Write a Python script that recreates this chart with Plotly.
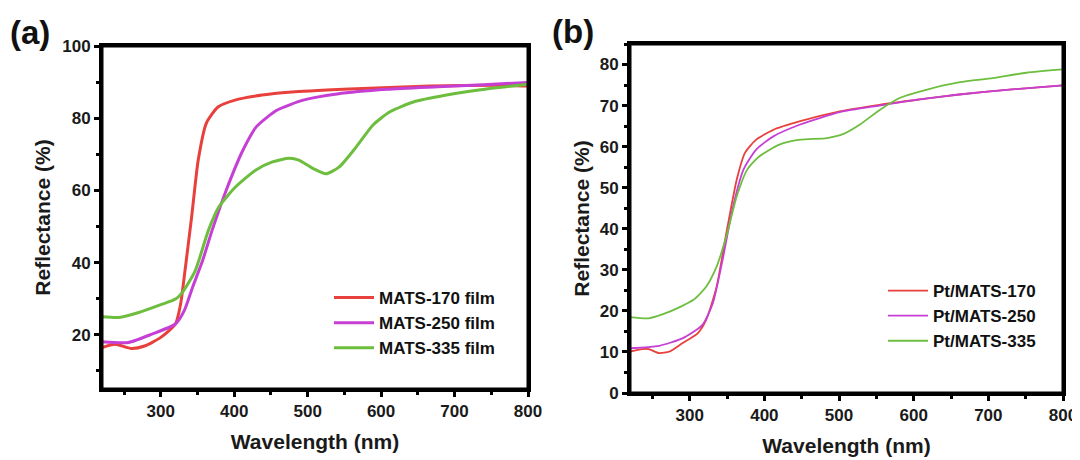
import plotly.graph_objects as go

# ---------------- data ----------------
# Panel (a)
a170_x = [220, 238, 260, 278, 300, 320, 327, 333, 342, 351, 362, 378, 401, 438, 483, 575, 666, 760, 800]
a170_y = [16.5, 17.4, 16.2, 16.9, 19.3, 23.0, 28.5, 37.8, 52.6, 68.4, 78.6, 83.1, 85.0, 86.4, 87.3, 88.2, 88.9, 89.1, 88.9]

a250_x = [220, 256, 288, 320, 332, 343, 357, 370, 389, 412, 430, 458, 494, 540, 608, 677, 740, 800]
a250_y = [18.1, 17.9, 20.2, 23.0, 26.7, 33.0, 40.6, 49.0, 60.0, 71.2, 77.6, 82.2, 85.0, 86.7, 88.0, 88.7, 89.3, 89.9]

a335_x = [220, 243, 270, 302, 320, 331, 347, 365, 379, 402, 429, 452, 475, 488, 507, 525, 543, 566, 589, 612, 644, 689, 733, 800]
a335_y = [25.0, 24.8, 26.2, 28.5, 29.9, 32.2, 37.8, 49.0, 55.4, 61.0, 65.6, 67.9, 68.9, 68.4, 66.1, 64.6, 66.5, 72.0, 78.1, 81.8, 84.5, 86.4, 87.8, 89.4]

# Panel (b)
b170_x = [220, 236, 245, 259, 273, 290, 311, 322, 336, 349, 363, 374, 389, 412, 448, 501, 554, 608, 661, 728, 800]
b170_y = [10.1, 10.7, 10.7, 9.7, 10.1, 12.1, 14.6, 17.8, 25.9, 38.9, 52.0, 58.5, 61.7, 64.1, 66.2, 68.6, 70.2, 71.5, 72.7, 73.9, 74.9]

b250_x = [220, 259, 290, 317, 331, 344, 358, 372, 389, 412, 448, 501, 554, 608, 661, 728, 800]
b250_y = [10.9, 11.5, 13.3, 16.6, 21.9, 32.4, 45.4, 54.4, 59.3, 62.5, 65.4, 68.4, 70.0, 71.5, 72.7, 73.9, 74.9]

b335_x = [220, 245, 273, 305, 322, 336, 349, 363, 377, 393, 420, 448, 484, 506, 528, 555, 582, 618, 662, 706, 751, 800]
b335_y = [18.5, 18.2, 19.8, 22.7, 25.9, 30.8, 38.1, 47.9, 54.4, 57.6, 60.5, 61.7, 62.1, 63.1, 65.4, 69.0, 71.9, 73.9, 75.7, 76.7, 78.0, 78.8]

names_a = ["MATS-170 film", "MATS-250 film", "MATS-335 film"]
names_b = ["Pt/MATS-170", "Pt/MATS-250", "Pt/MATS-335"]
colors = ["#E8403C", "#C63FD4", "#6DBE3E"]

x_ticks = [300, 400, 500, 600, 700, 800]
ya_ticks = [20, 40, 60, 80, 100]
yb_ticks = [0, 10, 20, 30, 40, 50, 60, 70, 80]

# ---------------- figure ----------------
# the page body adds an 8 px margin, so the figure is laid out in page pixels minus 8
OFF = 8
W, H = 1080 - OFF, 460 - OFF
FONT = "Liberation Sans, Arial, sans-serif"

fig = go.Figure()

for xs, ys, nm, c in zip([a170_x, a250_x, a335_x], [a170_y, a250_y, a335_y], names_a, colors):
    fig.add_trace(go.Scatter(x=xs, y=ys, name=nm, mode="lines", line=dict(color=c, width=3, shape="spline", smoothing=0.6),
                             xaxis="x", yaxis="y", legend="legend"))
for xs, ys, nm, c in zip([b170_x, b250_x, b335_x], [b170_y, b250_y, b335_y], names_b, colors):
    fig.add_trace(go.Scatter(x=xs, y=ys, name=nm, mode="lines", line=dict(color=c, width=1.8, shape="spline", smoothing=0.6),
                             xaxis="x2", yaxis="y2", legend="legend2"))


def px_x(p):
    return (p - OFF) / W


def px_y(p):
    return (H - (p - OFF)) / H


axis_common = dict(
    showline=True, linewidth=3, linecolor="black", mirror=True, automargin=False,
    ticks="outside", ticklen=5, tickwidth=2.5, tickcolor="black",
    showgrid=False, zeroline=False,
    tickfont=dict(family=FONT, size=17, color="#1a1a1a", weight="bold"),
    title_font=dict(family=FONT, size=21, color="#1a1a1a", weight="bold"),
)

minor_x = dict(ticks="outside", ticklen=3, tickwidth=2.5, tickcolor="black", dtick=50, tick0=250)

# plot-area boxes in page pixel coordinates
box_a = (102, 528, 46, 389)
box_b = (630, 1063, 44, 393)

fig.update_layout(
    template="none",
    width=W, height=H,
    margin=dict(l=0, r=0, t=0, b=0, autoexpand=False),
    paper_bgcolor="white", plot_bgcolor="white",
    xaxis=dict(domain=[px_x(box_a[0]), px_x(box_a[1])], range=[220, 800], tickvals=x_ticks, minor=minor_x,
               title=dict(text="Wavelength (nm)", standoff=14), anchor="y", **axis_common),
    yaxis=dict(domain=[px_y(box_a[3]), px_y(box_a[2])], range=[5, 100], tickvals=ya_ticks,
               minor=dict(ticks="outside", ticklen=3, tickwidth=2.5, tickcolor="black", dtick=10, tick0=10),
               title=dict(text="Reflectance (%)", standoff=6), anchor="x", **axis_common),
    xaxis2=dict(domain=[px_x(box_b[0]), px_x(box_b[1])], range=[220, 800], tickvals=x_ticks, minor=minor_x,
                title=dict(text="Wavelength (nm)", standoff=14), anchor="y2", **axis_common),
    yaxis2=dict(domain=[px_y(box_b[3]), px_y(box_b[2])], range=[0, 85], tickvals=yb_ticks,
                minor=dict(ticks="outside", ticklen=3, tickwidth=2.5, tickcolor="black", dtick=5, tick0=5),
                title=dict(text="Reflectance (%)", standoff=5), anchor="x2", **axis_common),
    legend=dict(x=px_x(329), y=px_y(280), xanchor="left", yanchor="top", bgcolor="rgba(0,0,0,0)",
                itemwidth=40, font=dict(family=FONT, size=17, color="#111", weight="bold"), tracegroupgap=0),
    legend2=dict(x=px_x(883), y=px_y(273), xanchor="left", yanchor="top", bgcolor="rgba(0,0,0,0)",
                 itemwidth=40, font=dict(family=FONT, size=17, color="#111", weight="bold"), tracegroupgap=0),
    annotations=[
        dict(text="(a)", x=px_x(8), y=px_y(12), xref="paper", yref="paper", xanchor="left", yanchor="top",
             showarrow=False, font=dict(family=FONT, size=33, color="#111", weight="bold")),
        dict(text="(b)", x=px_x(550), y=px_y(11), xref="paper", yref="paper", xanchor="left", yanchor="top",
             showarrow=False, font=dict(family=FONT, size=33, color="#111", weight="bold")),
    ],
    shapes=[
        dict(type="rect", xref="paper", yref="paper", x0=px_x(b[0]), x1=px_x(b[1]), y0=px_y(b[3]), y1=px_y(b[2]),
             line=dict(color="black", width=3), fillcolor="rgba(0,0,0,0)", layer="above")
        for b in (box_a, box_b)
    ],
    showlegend=True,
)

fig.write_html("out.html")
